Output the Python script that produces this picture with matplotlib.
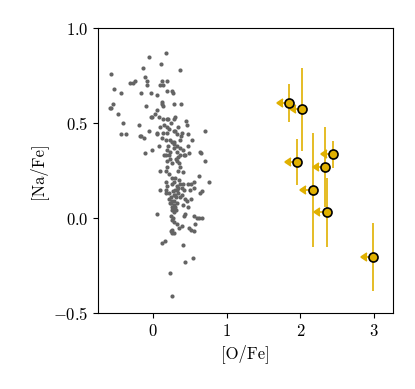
import matplotlib

matplotlib.use("Agg")
import matplotlib.pyplot as plt
from matplotlib.ticker import FuncFormatter

plt.rcParams["font.family"] = "serif"
plt.rcParams["font.serif"] = ["cmr10"]
plt.rcParams["mathtext.fontset"] = "cm"
plt.rcParams["axes.formatter.use_mathtext"] = True
plt.rcParams["font.size"] = 12

# ---- comparison sample (gray dots) ----
OFE_FIELD = [
    0.18, -0.06, 0.11, -0.14, 0.37, -0.57, -0.11, -0.24, -0.28, -0.32,
    -0.08, -0.08, 0.12, 0.19, 0.10, 0.14, 0.26, 0.27, 0.19, -0.53,
    -0.44, -0.16, -0.03, 0.05, 0.12, 0.12, 0.14, -0.54, -0.59, -0.57,
    0.28, 0.38, -0.48, -0.10, 0.05, 0.03, -0.01, -0.03, 0.08, 0.14,
    0.19, 0.20, 0.30, 0.29, 0.45, 0.46, -0.41, -0.19, 0.10, 0.15,
    0.19, 0.24, 0.34, -0.43, -0.37, -0.18, -0.13, -0.16, -0.06, 0.05,
    0.05, 0.14, 0.19, 0.28, 0.30, 0.39, 0.38, 0.48, 0.71, 0.12,
    0.18, 0.23, 0.28, 0.37, 0.53, -0.02, -0.11, 0.08, 0.29, 0.32,
    0.28, 0.37, 0.40, 0.48, 0.19, 0.23, 0.21, 0.15, 0.18, 0.32,
    0.36, 0.34, 0.43, 0.49, 0.64, 0.65, 0.23, 0.19, 0.25, 0.32,
    0.35, 0.42, 0.71, 0.19, 0.17, 0.10, 0.37, 0.34, 0.22, 0.40,
    0.62, 0.30, 0.28, 0.76, 0.17, 0.19, 0.25, 0.37, 0.41, 0.48,
    0.52, 0.56, 0.34, 0.30, 0.39, 0.42, 0.50, 0.55, 0.66, 0.64,
    0.17, 0.22, 0.32, 0.34, 0.36, 0.29, 0.31, 0.28, 0.25, 0.23,
    0.39, 0.43, 0.46, 0.52, 0.29, 0.30, 0.25, 0.41, 0.48, 0.26,
    0.28, 0.05, 0.24, 0.27, 0.25, 0.43, 0.42, 0.55, 0.59, 0.62,
    0.67, 0.28, 0.32, 0.35, 0.39, 0.49, 0.52, 0.57, 0.25, 0.24,
    0.55, 0.26, 0.29, 0.12, 0.16, 0.40, 0.54, 0.43, 0.23, 0.25,
    0.10, 0.18, 0.27, 0.33, 0.31, 0.22, 0.26, 0.31, 0.24, 0.33,
    0.27, 0.21, 0.30, 0.35, 0.26, 0.32, 0.20, 0.24,
]
NAFE_FIELD = [
    0.87, 0.85, 0.81, 0.79, 0.78, 0.76, 0.74, 0.72, 0.71, 0.71,
    0.72, 0.70, 0.72, 0.72, 0.70, 0.70, 0.67, 0.66, 0.67, 0.68,
    0.66, 0.66, 0.66, 0.65, 0.61, 0.60, 0.59, 0.60, 0.58, 0.58,
    0.60, 0.60, 0.55, 0.59, 0.57, 0.55, 0.53, 0.53, 0.53, 0.52,
    0.52, 0.52, 0.53, 0.52, 0.51, 0.49, 0.50, 0.49, 0.48, 0.49,
    0.48, 0.50, 0.48, 0.44, 0.44, 0.43, 0.42, 0.43, 0.46, 0.45,
    0.44, 0.45, 0.45, 0.46, 0.46, 0.45, 0.43, 0.44, 0.46, 0.42,
    0.41, 0.41, 0.40, 0.41, 0.41, 0.36, 0.34, 0.38, 0.39, 0.38,
    0.37, 0.37, 0.36, 0.38, 0.36, 0.35, 0.33, 0.33, 0.33, 0.35,
    0.33, 0.32, 0.33, 0.34, 0.35, 0.34, 0.31, 0.30, 0.29, 0.30,
    0.29, 0.33, 0.30, 0.27, 0.25, 0.25, 0.27, 0.25, 0.23, 0.24,
    0.22, 0.21, 0.19, 0.19, 0.19, 0.17, 0.18, 0.18, 0.18, 0.18,
    0.18, 0.19, 0.16, 0.15, 0.16, 0.15, 0.15, 0.16, 0.14, 0.13,
    0.13, 0.13, 0.15, 0.13, 0.11, 0.12, 0.11, 0.09, 0.09, 0.08,
    0.12, 0.10, 0.09, 0.10, 0.07, 0.06, 0.06, 0.07, 0.06, 0.04,
    0.03, 0.02, 0.01, 0.00, -0.01, 0.02, 0.01, 0.01, 0.00, 0.00,
    0.00, -0.02, -0.03, -0.05, -0.04, -0.05, -0.06, -0.03, -0.06, -0.07,
    -0.07, -0.08, -0.08, -0.13, -0.12, -0.14, -0.21, -0.23, -0.29, -0.41,
    0.15, 0.15, 0.05, 0.08, 0.04, 0.47, 0.40, 0.31, 0.11, 0.17,
    0.14, 0.10, 0.12, 0.20, 0.21, 0.44, 0.38, 0.08,
]

# ---- new stars: [O/Fe] upper limits, [Na/Fe] with asymmetric errors ----
OFE_NEW = [1.85, 2.03, 1.96, 2.45, 2.34, 2.17, 2.36, 2.99]
NAFE_NEW = [0.605, 0.572, 0.295, 0.335, 0.268, 0.146, 0.030, -0.204]
NAFE_ERR_LO = [0.10, 0.22, 0.12, 0.07, 0.21, 0.30, 0.18, 0.18]
NAFE_ERR_HI = [0.10, 0.22, 0.12, 0.07, 0.21, 0.30, 0.18, 0.18]
OFE_ARROW = 0.09

GRAY = "#646464"
GOLD = "#E0B000"

fig = plt.figure(figsize=(4.15, 3.89), dpi=100)
ax = fig.add_axes([0.236, 0.195, 0.711, 0.733])

ax.scatter(OFE_FIELD, NAFE_FIELD, s=9, color=GRAY, linewidths=0, zorder=2)

ax.errorbar(OFE_NEW, NAFE_NEW, yerr=[NAFE_ERR_LO, NAFE_ERR_HI],
            xerr=OFE_ARROW, xuplims=True, fmt="o", color=GOLD, ecolor=GOLD,
            elinewidth=1.2, markersize=6.5, markerfacecolor=GOLD,
            markeredgecolor="black", markeredgewidth=1.2, zorder=3)

ax.set_xlim(-0.75, 3.26)
ax.set_ylim(-0.5, 1.0)
ax.set_xticks([0, 1, 2, 3])
ax.set_yticks([-0.5, 0.0, 0.5, 1.0])
ax.yaxis.set_major_formatter(FuncFormatter(lambda v, _: f"${v:.1f}$"))
ax.set_xlabel("[O/Fe]")
ax.set_ylabel("[Na/Fe]")

fig.savefig("out.png", dpi=100)
